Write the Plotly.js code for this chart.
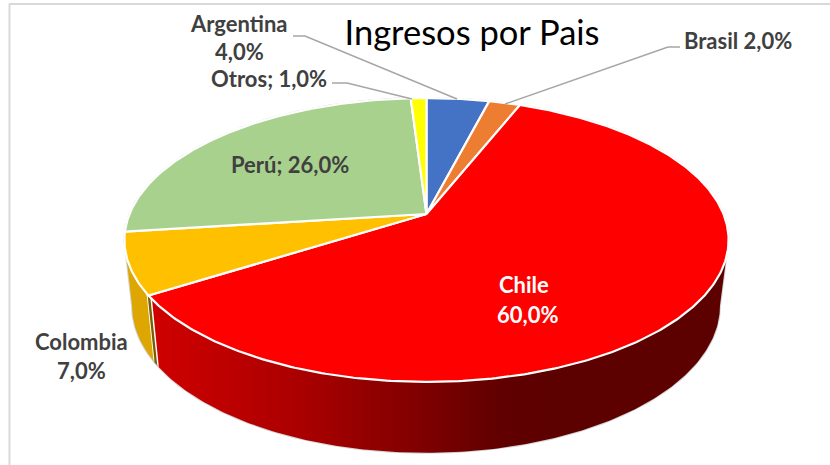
<!DOCTYPE html>
<html>
<head>
<meta charset="utf-8">
<script src="https://cdn.plot.ly/plotly-3.0.1.min.js"></script>
<style>html,body{margin:0;padding:0;background:#fff}#c{width:830px;height:465px}</style>
</head>
<body>
<div id="c"></div>
<script>
// Data
const categories = ['Argentina', 'Brasil', 'Chile', 'Colombia', 'Perú', 'Otros'];
const shares = [4.0, 2.0, 60.0, 7.0, 26.0, 1.0];
const topColors = ['#4472c4', '#ed7d31', '#ff0000', '#ffc000', '#a9d18e', '#ffff00'];
const shareText = shares.map(v => v.toFixed(1).replace('.', ',') + '%');

// Projection of the tilted disc (axis units are pixels of the canvas)
const K = 0.183;
const TOP = {x: 426.5, y: 214, a: 297, b: 137.2};
const LOW = {x: 426, y: 279, a: 289, b: 142};
const rad = d => d * Math.PI / 180;
function pt(ring, deg) {
  const u = Math.sin(rad(deg)), v = -Math.cos(rad(deg)), w = 1 - K * v;
  return [ring.x + ring.a * u / w, ring.y + ring.b * v / w];
}
function arc(ring, from, to) {
  const n = Math.max(2, Math.ceil(Math.abs(to - from) * 1.5)), out = [];
  for (let i = 0; i <= n; i++) out.push(pt(ring, from + (to - from) * i / n));
  return out;
}
function poly(points, extra) {
  return Object.assign({
    x: points.map(p => p[0]), y: points.map(p => p[1]),
    type: 'scatter', mode: 'lines', fill: 'toself', hoverinfo: 'text', showlegend: false
  }, extra);
}

// Slice angles come from the shares, clockwise from 12 o'clock
const starts = [];
shares.reduce((sum, v, i) => { starts[i] = sum * 3.6; return sum + v; }, 0);
const ends = starts.map((s, i) => s + shares[i] * 3.6);
const iChile = categories.indexOf('Chile'), iCol = categories.indexOf('Colombia');
const tangent = 10.5;
const seam = ends[iChile];

const traces = [];
function side(from, to, extra) {
  return poly(arc(TOP, from, to).concat(arc(LOW, to, from)), extra);
}
// thin grey silhouette behind everything
traces.push(poly(
  arc(TOP, 90 + tangent - 200, 90 + tangent).concat(arc(LOW, 90 + tangent, 270 - tangent)).concat(arc(TOP, 270 - tangent, 360 - 109.5 + 10)),
  {line: {color: '#d4d4d4', width: 2}, fillcolor: '#ffffff', hoverinfo: 'skip'}));

// side walls
traces.push(side(90 + tangent, seam - 1.5, {
  name: categories[iChile], text: categories[iChile],
  line: {color: 'rgba(0,0,0,0)', width: 0},
  fillgradient: {type: 'horizontal', start: 155, stop: 560,
    colorscale: [[0, '#cf0000'], [0.36, '#aa0000'], [0.62, '#850000'], [0.85, '#610000'], [1, '#5c0000']]}
}));
traces.push(side(seam - 0.8, seam + 0.4, {
  name: categories[iCol], text: categories[iCol],
  line: {color: 'rgba(0,0,0,0)', width: 0}, fillcolor: '#7a5c00'
}));
traces.push(side(seam + 0.9, 270 - tangent, {
  name: categories[iCol], text: categories[iCol],
  line: {color: 'rgba(0,0,0,0)', width: 0}, fillcolor: '#dda600'
}));

// top faces
categories.forEach((c, i) => {
  const pts = [[TOP.x, TOP.y]].concat(arc(TOP, starts[i], ends[i]));
  pts.push([TOP.x, TOP.y]);
  traces.push(poly(pts, {
    name: c, text: c + ' ' + shareText[i],
    fillcolor: topColors[i], line: {color: '#ffffff', width: 2.2}
  }));
});

// labels
const DARK = '#404040';
function lab(text, x, y, color) {
  return {text: text, x: x, y: y, xref: 'x', yref: 'y', showarrow: false,
    xanchor: 'center', yanchor: 'middle',
    font: {family: 'Lato, sans-serif', size: 22, color: color || DARK, weight: 700}};
}
const annotations = [
  lab(categories[0], 239, 23), lab(shareText[0], 239, 51),
  lab(categories[5] + '; ' + shareText[5], 269, 78),
  lab(categories[1] + ' ' + shareText[1], 738, 40),
  lab(categories[4] + '; ' + shareText[4], 290, 164),
  lab(categories[2], 524, 284, '#ffffff'), lab(shareText[2], 527, 314, '#ffffff'),
  lab(categories[3], 81, 341), lab(shareText[3], 81, 370)
];

// leader lines and frame
function leader(x0, x1, x2, y0, y2) {
  return {type: 'path', xref: 'x', yref: 'y',
    path: `M${x0},${y0} L${x1},${y0} L${x2},${y2}`,
    line: {color: '#a6a6a6', width: 1.5}};
}
const shapes = [
  leader(293, 305, 457, 36, 99),
  leader(332, 347, 412, 83, 99),
  leader(680, 668, 505, 47, 104),
  {type: 'line', xref: 'x', yref: 'y', x0: 9.5, x1: 9.5, y0: 4, y1: 465, line: {color: '#d9d9d9', width: 2}},
  {type: 'line', xref: 'x', yref: 'y', x0: 9, x1: 830, y0: 4, y1: 4, line: {color: '#d9d9d9', width: 2}}
];

const hidden = {visible: false, fixedrange: true};
Plotly.newPlot('c', traces, {
  width: 830, height: 465,
  margin: {l: 0, r: 0, t: 0, b: 0},
  paper_bgcolor: '#ffffff', plot_bgcolor: '#ffffff',
  showlegend: false,
  title: {text: 'Ingresos por Pais', x: 472 / 830, xanchor: 'center', y: 1 - 33 / 465, yanchor: 'middle',
    font: {family: 'Lato, sans-serif', size: 34.5, color: '#000000'}},
  xaxis: Object.assign({range: [0, 830]}, hidden),
  yaxis: Object.assign({range: [465, 0]}, hidden),
  shapes: shapes, annotations: annotations
}, {displayModeBar: false, staticPlot: false});
</script>
</body>
</html>
